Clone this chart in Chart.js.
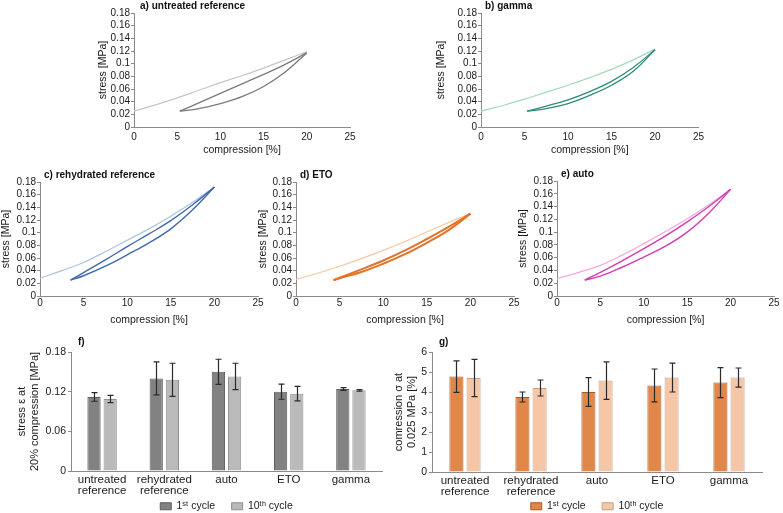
<!DOCTYPE html>
<html lang="en">
<head>
<meta charset="UTF-8" />
<title>Cyclic compression: hysteresis and bar summary</title>
<script src="https://cdn.jsdelivr.net/npm/chart.js"></script>
<style>
  html, body { margin: 0; padding: 0; background: #fff; }
  #wrap { position: relative; width: 783px; height: 513px; overflow: hidden; }
  #wrap canvas { position: absolute; }
</style>
</head>
<body>
<div id="wrap">
  <canvas id="cA"></canvas>
  <canvas id="cB"></canvas>
  <canvas id="cC"></canvas>
  <canvas id="cD"></canvas>
  <canvas id="cE"></canvas>
  <canvas id="cF"></canvas>
  <canvas id="cG"></canvas>
</div>
<script>
// ---- hysteresis curves (compression %, stress MPa) ----
const loadX = [0, 2.5, 5, 7.5, 10, 12.5, 15, 17.5, 20];

// a) untreated reference
const aLoad = [0.025, 0.035, 0.046, 0.058, 0.070, 0.081, 0.093, 0.106, 0.119];
const aUpX = [5.3, 7.5, 10, 12.5, 15, 17.5, 20];
const aUp = [0.025, 0.038, 0.053, 0.068, 0.083, 0.099, 0.117];
const aDownX = [20, 17.5, 15, 12.5, 10, 7.5, 5.3];
const aDown = [0.117, 0.087, 0.064, 0.048, 0.037, 0.029, 0.025];

// b) gamma
const bLoad = [0.025, 0.034, 0.044, 0.055, 0.066, 0.078, 0.091, 0.106, 0.123];
const bUpX = [5.3, 7.5, 10, 12.5, 15, 17.5, 20];
const bUp = [0.025, 0.033, 0.043, 0.056, 0.072, 0.094, 0.122];
const bDownX = [20, 17.5, 15, 12.5, 10, 7.5, 5.3];
const bDown = [0.122, 0.088, 0.066, 0.050, 0.037, 0.029, 0.025];

// c) rehydrated reference
const cLoad = [0.028, 0.040, 0.053, 0.070, 0.088, 0.106, 0.126, 0.148, 0.172];
const cUpX = [3.5, 5, 7.5, 10, 12.5, 15, 17.5, 20];
const cUp = [0.025, 0.037, 0.057, 0.078, 0.098, 0.119, 0.144, 0.172];
const cDownX = [20, 17.5, 15, 12.5, 10, 7.5, 5, 3.5];
const cDown = [0.172, 0.136, 0.106, 0.084, 0.065, 0.047, 0.032, 0.025];

// d) ETO
const dLoad = [0.026, 0.036, 0.047, 0.059, 0.072, 0.086, 0.101, 0.116, 0.130];
const dUpX = [4.3, 5, 7.5, 10, 12.5, 15, 17.5, 20];
const dUp = [0.025, 0.029, 0.042, 0.056, 0.072, 0.090, 0.109, 0.130];
const dDownX = [20, 17.5, 15, 12.5, 10, 7.5, 5, 4.3];
const dDown = [0.130, 0.104, 0.084, 0.066, 0.051, 0.038, 0.028, 0.025];

// e) auto
const eLoad = [0.027, 0.037, 0.048, 0.064, 0.082, 0.101, 0.121, 0.143, 0.167];
const eUpX = [3.2, 5, 7.5, 10, 12.5, 15, 17.5, 20];
const eUp = [0.025, 0.037, 0.055, 0.074, 0.094, 0.116, 0.140, 0.167];
const eDownX = [20, 17.5, 15, 12.5, 10, 7.5, 5, 3.2];
const eDown = [0.167, 0.130, 0.100, 0.078, 0.061, 0.045, 0.031, 0.025];

// ---- bar summaries ----
const groups = [['untreated', 'reference'], ['rehydrated', 'reference'], 'auto', 'ETO', 'gamma'];
const cycleNames = ['1\u02E2\u1D57 cycle', '10\u1D57\u02B0 cycle'];

// f) stress at 20% compression [MPa]
const stress1 = [0.112, 0.140, 0.150, 0.120, 0.124];
const stress1Err = [0.0065, 0.025, 0.019, 0.0115, 0.002];
const stress10 = [0.109, 0.138, 0.143, 0.117, 0.122];
const stress10Err = [0.0055, 0.025, 0.020, 0.011, 0.0013];

// g) compression at 0.025 MPa [%]
const comp1 = [4.77, 3.75, 4.00, 4.33, 4.47];
const comp1Err = [0.79, 0.25, 0.72, 0.82, 0.75];
const comp10 = [4.70, 4.20, 4.57, 4.72, 4.72];
const comp10Err = [0.93, 0.40, 0.94, 0.72, 0.48];

const FONT = "'Liberation Sans', Arial, sans-serif";
const AXIS = '#8a8a8a';
Chart.defaults.font.family = FONT;
Chart.defaults.color = '#1a1a1a';

// panel letter, drawn relative to the plot area
Chart.register({
  id: 'panelLabel',
  afterDraw(chart, args, opts) {
    if (!opts || !opts.text) return;
    const { ctx, chartArea } = chart;
    ctx.save();
    ctx.font = 'bold 10px ' + FONT;
    ctx.fillStyle = '#111';
    ctx.textBaseline = 'middle';
    ctx.fillText(opts.text, chartArea.left + opts.dx, chartArea.top + opts.dy);
    ctx.restore();
  }
});

// error bars for bar datasets carrying an "errors" array
Chart.register({
  id: 'errorBars',
  afterDatasetsDraw(chart) {
    const { ctx } = chart;
    const yScale = chart.scales.y;
    chart.data.datasets.forEach((ds, i) => {
      if (!ds.errors) return;
      const meta = chart.getDatasetMeta(i);
      ctx.save();
      ctx.strokeStyle = '#2a2a2a';
      ctx.lineWidth = 1.2;
      meta.data.forEach((bar, j) => {
        const v = ds.data[j], e = ds.errors[j];
        const hi = yScale.getPixelForValue(v + e);
        const lo = yScale.getPixelForValue(v - e);
        const x = Math.round(bar.x) + 0.5;
        ctx.beginPath();
        ctx.moveTo(x, hi); ctx.lineTo(x, lo);
        ctx.moveTo(x - 3, hi); ctx.lineTo(x + 3, hi);
        ctx.moveTo(x - 3, lo); ctx.lineTo(x + 3, lo);
        ctx.stroke();
      });
      ctx.restore();
    });
  }
});

function place(id, box) {
  const cv = document.getElementById(id);
  cv.width = box.w; cv.height = box.h;
  cv.style.left = box.x + 'px';
  cv.style.top = box.y + 'px';
  return cv;
}

function pts(xs, ys) {
  return xs.map((x, i) => ({ x: x, y: ys[i] }));
}

function hysteresis(id, box, area, label, light, dark, load, upX, up, downX, down, opt) {
  const cv = place(id, box);
  const line = (data, color, w) => ({
    data: data, borderColor: color, borderWidth: w, showLine: true,
    pointRadius: 0, tension: 0.4
  });
  return new Chart(cv, {
    type: 'scatter',
    data: {
      datasets: [
        line(pts(upX, up), dark, opt.darkW),
        line(pts(downX, down), dark, opt.darkW),
        line(pts(loadX, load), light, 1.2)
      ]
    },
    options: {
      responsive: false,
      animation: false,
      layout: { padding: { left: 0, top: area.t - box.y, right: box.x + box.w - area.r, bottom: 0 } },
      plugins: {
        legend: { display: false },
        tooltip: { enabled: false },
        panelLabel: { text: label, dx: opt.dx, dy: -7 }
      },
      scales: {
        x: {
          type: 'linear', min: 0, max: 25,
          ticks: { stepSize: 5, padding: opt.xPad, font: { size: 10 }, maxRotation: 0 },
          grid: { drawOnChartArea: false, drawTicks: false },
          border: { color: AXIS },
          title: { display: true, text: 'compression [%]', font: { size: 10.5 }, padding: { top: 0, bottom: 4 } },
          afterFit: s => { s.height = box.y + box.h - area.b; }
        },
        y: {
          min: 0, max: 0.18,
          ticks: { stepSize: 0.02, autoSkip: false, padding: 1, font: { size: 10 },
                   callback: v => String(+v.toFixed(2)) },
          grid: { drawOnChartArea: false, tickLength: 3, color: AXIS },
          border: { color: AXIS },
          title: { display: true, text: 'stress [MPa]', font: { size: 10.5 }, padding: { top: opt.tPad, bottom: 0 } },
          afterFit: s => { s.width = area.l - box.x; }
        }
      }
    }
  });
}

hysteresis('cA', { x: 93, y: 0, w: 267, h: 160 }, { l: 134, r: 350, t: 13, b: 127 },
  'a) untreated reference', '#c6c6c6', '#7a7a7a', aLoad, aUpX, aUp, aDownX, aDown,
  { darkW: 1.3, dx: 6, xPad: 4, tPad: 4 });
hysteresis('cB', { x: 431, y: 0, w: 279, h: 160 }, { l: 481, r: 698.5, t: 13, b: 127 },
  'b) gamma', '#a3d9bb', '#2f8c74', bLoad, bUpX, bUp, bDownX, bDown,
  { darkW: 1.3, dx: 4, xPad: 4, tPad: 4 });
hysteresis('cC', { x: 0, y: 165, w: 270, h: 165 }, { l: 40, r: 258, t: 182, b: 296 },
  'c) rehydrated reference', '#aac2e4', '#3f68ad', cLoad, cUpX, cUp, cDownX, cDown,
  { darkW: 1.4, dx: 4, xPad: 1, tPad: 0 });
hysteresis('cD', { x: 253, y: 165, w: 272, h: 165 }, { l: 296, r: 514, t: 182, b: 296 },
  'd) ETO', '#f8c6a0', '#e2742a', dLoad, dUpX, dUp, dDownX, dDown,
  { darkW: 2, dx: 4, xPad: 1, tPad: 4 });
hysteresis('cE', { x: 513, y: 165, w: 270, h: 165 }, { l: 557, r: 774, t: 181, b: 296 },
  'e) auto', '#f2a8dd', '#d43cb0', eLoad, eUpX, eUp, eDownX, eDown,
  { darkW: 1.4, dx: 4, xPad: 1, tPad: 4 });

function summary(id, box, area, label, yTitle, yMax, yStep, v1, e1, v10, e10, colors) {
  const cv = place(id, box);
  const legendH = 14;
  return new Chart(cv, {
    type: 'bar',
    data: {
      labels: groups,
      datasets: [
        { label: cycleNames[0], data: v1, errors: e1, backgroundColor: colors[0], borderColor: colors[1],
          borderWidth: 1, barPercentage: 0.82, categoryPercentage: 0.52 },
        { label: cycleNames[1], data: v10, errors: e10, backgroundColor: colors[2], borderColor: colors[3],
          borderWidth: 1, barPercentage: 0.82, categoryPercentage: 0.52 }
      ]
    },
    options: {
      responsive: false,
      animation: false,
      layout: { padding: { left: 0, top: area.t - box.y, right: box.x + box.w - area.r, bottom: 0 } },
      plugins: {
        tooltip: { enabled: false },
        panelLabel: { text: label, dx: 7, dy: -10 },
        legend: {
          position: 'bottom', fullSize: false, maxHeight: legendH,
          labels: {
            boxWidth: 11, boxHeight: 7, padding: 2, font: { size: 10.5 },
            // keep a gap between the two legend entries
            generateLabels: ch => Chart.defaults.plugins.legend.labels.generateLabels(ch)
              .map((it, i) => Object.assign(it, { text: i === 0 ? it.text + '     ' : it.text }))
          }
        }
      },
      scales: {
        x: {
          ticks: { padding: 3, font: { size: 11.5, lineHeight: 1.0 }, maxRotation: 0, autoSkip: false },
          grid: { drawOnChartArea: false, drawTicks: false },
          border: { color: AXIS },
          afterFit: s => { s.height = box.y + box.h - legendH - area.b; }
        },
        y: {
          min: 0, max: yMax,
          ticks: { stepSize: yStep, autoSkip: false, padding: 2, font: { size: 10.5 },
                   callback: v => String(+v.toFixed(2)) },
          grid: { drawOnChartArea: false, tickLength: 3, color: AXIS },
          border: { color: AXIS },
          title: { display: true, text: yTitle, font: { size: 11, lineHeight: 1.15 }, padding: { top: 4, bottom: 0 } },
          afterFit: s => { s.width = area.l - box.x; }
        }
      }
    }
  });
}

summary('cF', { x: 12, y: 335, w: 378, h: 178 }, { l: 71, r: 382, t: 352, b: 471 },
  'f)', ['stress \u03B5 at', '20% compression [MPa]'], 0.18, 0.06,
  stress1, stress1Err, stress10, stress10Err, ['#828282', '#5e5e5e', '#bababa', '#909090']);
summary('cG', { x: 389, y: 335, w: 385, h: 178 }, { l: 432, r: 762, t: 352, b: 472 },
  'g)', ['comression \u03C3 at', '0.025 MPa [%]'], 6, 1,
  comp1, comp1Err, comp10, comp10Err, ['#e2874a', '#a95b29', '#f6c7a6', '#c69e86']);
</script>
</body>
</html>
